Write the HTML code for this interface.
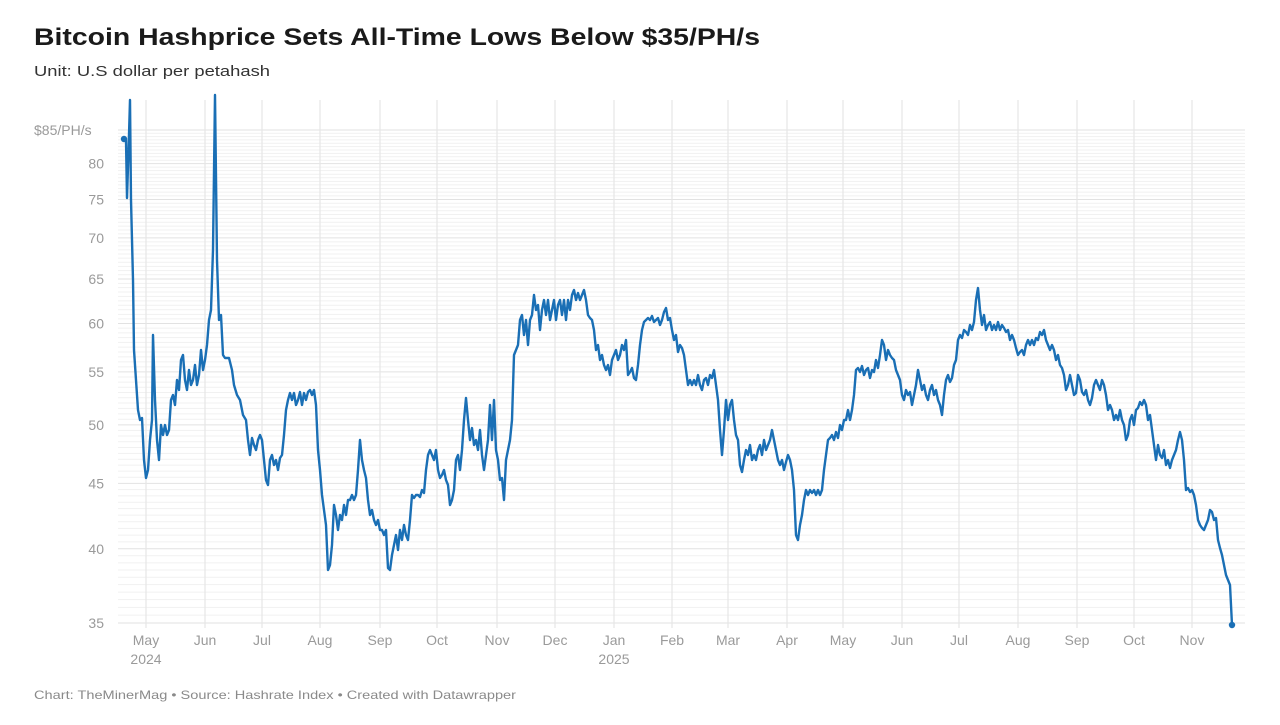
<!DOCTYPE html>
<html><head><meta charset="utf-8"><style>
body{margin:0;background:#fff;width:1280px;height:720px;overflow:hidden;font-family:"Liberation Sans",sans-serif}
</style></head><body>
<svg id="s" width="1280" height="720" xmlns="http://www.w3.org/2000/svg" font-family="Liberation Sans, sans-serif">
<text x="34" y="45" font-size="24" font-weight="bold" fill="#1a1a1a" textLength="726" lengthAdjust="spacingAndGlyphs">Bitcoin Hashprice Sets All-Time Lows Below $35/PH/s</text>
<text x="34" y="76" font-size="15" fill="#333" textLength="236" lengthAdjust="spacingAndGlyphs">Unit: U.S dollar per petahash</text>
<g id="grid"></g>
<g id="lab" font-size="14" fill="#9a9a9a"></g>
<polyline fill="none" stroke="#1a6fb5" stroke-width="2.4" stroke-linejoin="round" points="124,139 126,140 127,198 129,135 130,100 131,200 133,280 134,350 136,380 138,410 140,420 142,418 144,460 146,478 148,470 150,440 152,420 153,335 155,400 157,440 159,460 161,425 163,435 165,425 167,435 169,430 171,400 173,395 175,405 177,380 179,390 181,360 183,355 185,380 187,390 189,370 191,385 193,380 195,365 197,385 199,375 201,350 203,370 205,360 207,345 209,320 211,310 213,250 215,95 217,260 219,320 221,315 223,355 225,358 229,358 232,370 234,385 237,395 240,400 243,415 246,420 248,440 250,455 252,438 254,445 256,450 258,440 260,435 262,440 264,460 266,480 268,485 270,460 272,455 274,465 276,460 278,470 280,458 282,455 284,435 286,410 288,400 290,393 292,400 294,393 296,405 298,400 300,392 302,405 304,393 306,400 308,392 310,390 312,395 314,390 316,405 318,450 320,470 322,495 324,510 326,525 328,570 330,565 332,545 334,505 336,515 338,530 340,515 342,520 344,505 346,515 348,500 350,500 352,495 354,500 356,495 358,470 360,440 362,460 364,470 366,478 368,500 370,515 372,510 374,520 376,525 378,520 380,530 382,530 384,535 386,530 388,568 390,570 392,555 394,545 396,535 398,550 400,530 402,540 404,525 406,535 408,540 410,520 412,495 414,498 416,495 418,495 420,497 422,490 424,493 426,470 428,455 430,450 432,455 434,460 436,450 438,470 440,478 442,475 444,470 446,480 448,485 450,505 452,500 454,490 456,460 458,455 460,470 462,450 464,420 466,398 468,420 470,440 472,428 474,445 476,440 478,450 480,430 482,455 484,470 486,455 488,440 490,405 492,440 494,400 496,450 498,460 500,480 502,478 504,500 506,460 508,450 510,440 512,420 514,355 516,350 518,345 520,320 522,315 524,335 526,320 528,345 530,320 532,315 534,295 536,310 538,305 540,330 542,310 544,300 546,315 548,300 550,320 552,310 554,300 556,320 558,305 560,300 562,315 564,300 566,320 568,300 570,310 572,295 574,290 576,300 578,293 580,300 582,295 584,290 586,300 588,315 590,318 592,320 594,330 596,350 598,345 600,360 602,355 604,365 606,370 608,365 610,375 612,360 614,355 616,350 618,360 620,355 622,345 624,350 626,340 628,375 630,372 632,368 634,378 636,380 638,365 640,345 642,330 644,322 646,320 648,318 650,320 652,316 654,322 656,320 658,318 660,325 662,320 664,312 666,308 668,320 670,318 672,330 674,340 676,335 678,352 680,345 682,348 684,355 686,370 688,385 690,380 692,385 694,380 696,385 698,375 700,385 702,390 704,380 706,378 708,385 710,375 712,378 714,370 716,385 718,400 720,430 722,455 724,430 726,400 728,420 730,405 732,400 734,420 736,435 738,440 740,465 742,472 744,460 746,450 748,455 750,445 752,460 754,455 756,460 758,450 760,445 762,455 764,440 766,450 768,445 770,440 772,430 774,440 776,450 778,460 780,465 782,460 784,470 786,462 788,455 790,460 792,470 794,490 796,535 798,540 800,525 802,515 804,500 806,490 808,495 810,490 812,493 814,490 816,495 818,490 820,495 822,490 824,470 826,455 828,440 830,438 832,435 834,440 836,432 838,438 840,425 842,430 844,420 846,420 848,410 850,420 852,410 854,395 856,370 858,368 860,372 862,366 864,375 866,370 868,368 870,378 872,370 874,372 876,360 878,368 880,355 882,340 884,345 886,360 888,350 890,355 892,358 894,360 896,370 898,375 900,380 902,395 904,400 906,390 908,395 910,392 912,405 914,395 916,385 918,370 920,380 922,390 924,385 926,395 928,400 930,390 932,385 934,395 936,390 938,400 940,405 942,415 944,395 946,380 948,375 950,382 952,378 954,365 956,360 958,340 960,335 962,338 964,330 966,332 968,335 970,325 972,330 974,322 976,300 978,288 980,310 982,325 984,315 986,330 988,325 990,322 992,330 994,325 996,330 998,322 1000,330 1002,325 1004,328 1006,332 1008,330 1010,340 1012,335 1014,340 1016,348 1018,355 1020,352 1022,350 1024,355 1026,345 1028,340 1030,345 1032,340 1034,345 1036,338 1038,340 1040,332 1042,335 1044,330 1046,340 1048,345 1050,350 1052,345 1054,350 1056,360 1058,355 1060,365 1062,368 1064,375 1066,390 1068,385 1070,375 1072,385 1074,395 1076,393 1078,375 1080,380 1082,392 1084,395 1086,390 1088,400 1090,405 1092,398 1094,385 1096,380 1098,385 1100,390 1102,380 1104,385 1106,395 1108,410 1110,405 1112,410 1114,420 1116,415 1118,420 1120,410 1122,420 1124,425 1126,440 1128,435 1130,420 1132,415 1134,425 1136,410 1138,408 1140,402 1142,405 1144,400 1146,405 1148,420 1150,415 1152,430 1154,445 1156,460 1158,445 1160,455 1162,458 1164,450 1166,465 1168,460 1170,468 1172,460 1174,455 1176,450 1178,440 1180,432 1182,440 1184,460 1186,490 1188,488 1190,492 1192,490 1194,495 1196,505 1198,520 1200,525 1202,528 1204,530 1206,525 1208,520 1210,510 1212,512 1214,520 1216,518 1218,540 1220,548 1222,555 1224,565 1226,575 1228,580 1230,585 1232,625"/>
<circle cx="124" cy="139" r="3.2" fill="#1a6fb5"/>
<circle cx="1232" cy="625" r="3.2" fill="#1a6fb5"/>
<text x="34" y="699" font-size="12" fill="#8a8a8a" textLength="482" lengthAdjust="spacingAndGlyphs">Chart: TheMinerMag • Source: Hashrate Index • Created with Datawrapper</text>
</svg>
<script>
var ns="http://www.w3.org/2000/svg",g=document.getElementById('grid'),lab=document.getElementById('lab');
function el(p,t,a,txt){var e=document.createElementNS(ns,t);for(var k in a)e.setAttribute(k,a[k]);if(txt)e.textContent=txt;p.appendChild(e);return e;}
function y(v){return 623-(Math.log(v/35)/Math.log(85/35))*493;}
for(var v=35;v<=85;v+=0.5){var yy=y(v);var major=(v%5===0);
el(g,'line',{x1:118,x2:1245,y1:yy,y2:yy,stroke:major?'#e2e2e2':'#f1f1f1','stroke-width':1});}
[35,40,45,50,55,60,65,70,75,80].forEach(function(v){el(lab,'text',{x:104,y:y(v)+5,'text-anchor':'end'},String(v));});
el(lab,'text',{x:34,y:y(85)+5},'$85/PH/s');
var m=[["May",146],["Jun",205],["Jul",262],["Aug",320],["Sep",380],["Oct",437],["Nov",497],["Dec",555],["Jan",614],["Feb",672],["Mar",728],["Apr",787],["May",843],["Jun",902],["Jul",959],["Aug",1018],["Sep",1077],["Oct",1134],["Nov",1192]];
m.forEach(function(a){el(g,'line',{x1:a[1],x2:a[1],y1:100,y2:628,stroke:'#e6e6e6','stroke-width':1.2});
el(lab,'text',{x:a[1],y:645,'text-anchor':'middle'},a[0]);});
el(lab,'text',{x:146,y:664,'text-anchor':'middle'},'2024');
el(lab,'text',{x:614,y:664,'text-anchor':'middle'},'2025');
</script>
</body></html>
